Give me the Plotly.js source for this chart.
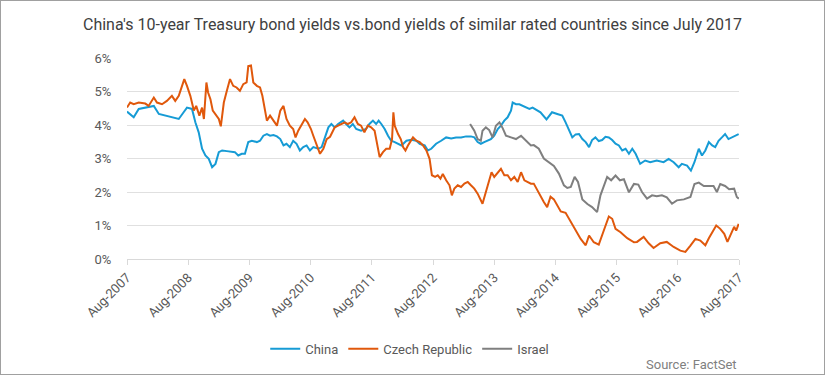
<!DOCTYPE html>
<html>
<head>
<meta charset="utf-8">
<script src="https://cdn.plot.ly/plotly-3.0.1.min.js"></script>
<style>
html,body{margin:0;padding:0;background:#fff;}
#wrap{position:relative;width:825px;height:375px;}
#chart{width:825px;height:375px;}
#frame{position:absolute;left:0;top:0;width:825px;height:375px;box-sizing:border-box;border:1px solid #a0a0a0;pointer-events:none;}
</style>
</head>
<body>
<div id="wrap"><div id="chart"></div><div id="frame"></div></div>
<script>
const chinaDates = ["2007-08-01","2007-09-10","2007-10-10","2007-11-18","2008-01-08","2008-02-07","2008-03-16","2008-04-25","2008-06-05","2008-07-04","2008-07-24","2008-08-23","2008-09-12","2008-10-02","2008-10-22","2008-11-11","2008-12-01","2008-12-21","2009-01-10","2009-01-30","2009-02-19","2009-03-19","2009-05-06","2009-05-26","2009-06-16","2009-07-05","2009-07-25","2009-08-15","2009-09-14","2009-10-03","2009-10-23","2009-11-13","2009-12-02","2009-12-22","2010-01-12","2010-02-01","2010-02-20","2010-03-10","2010-03-30","2010-04-19","2010-05-09","2010-05-29","2010-06-18","2010-07-08","2010-07-28","2010-08-17","2010-09-16","2010-10-06","2010-10-26","2010-11-15","2010-12-03","2010-12-23","2011-01-12","2011-02-11","2011-03-01","2011-03-21","2011-04-10","2011-04-30","2011-05-29","2011-06-28","2011-07-18","2011-08-08","2011-08-27","2011-09-11","2011-09-27","2011-10-17","2011-11-06","2011-11-25","2011-12-16","2012-01-05","2012-01-25","2012-02-24","2012-03-24","2012-04-23","2012-05-13","2012-06-12","2012-07-01","2012-07-21","2012-08-19","2012-09-18","2012-10-18","2012-11-17","2012-12-16","2013-01-15","2013-02-14","2013-03-15","2013-04-04","2013-04-24","2013-05-13","2013-06-02","2013-06-23","2013-07-12","2013-08-01","2013-08-22","2013-09-10","2013-09-30","2013-10-20","2013-11-09","2013-11-19","2013-12-09","2013-12-29","2014-01-18","2014-02-07","2014-02-27","2014-03-18","2014-03-25","2014-05-04","2014-06-09","2014-07-12","2014-08-12","2014-09-11","2014-10-01","2014-10-21","2014-11-10","2014-11-30","2014-12-20","2015-01-09","2015-01-29","2015-02-18","2015-03-08","2015-03-28","2015-04-17","2015-05-07","2015-05-27","2015-06-16","2015-07-06","2015-07-26","2015-08-15","2015-09-04","2015-09-24","2015-10-14","2015-11-03","2015-11-23","2015-12-20","2016-01-19","2016-02-18","2016-03-28","2016-05-08","2016-06-07","2016-07-07","2016-08-06","2016-08-25","2016-09-25","2016-10-18","2016-11-08","2016-12-04","2016-12-23","2017-01-12","2017-02-02","2017-02-22","2017-03-12","2017-04-01","2017-04-21","2017-05-10","2017-05-30","2017-06-19","2017-07-09","2017-07-30"];
const chinaVals = [4.40,4.23,4.48,4.52,4.57,4.33,4.28,4.22,4.18,4.38,4.52,4.48,4.08,3.78,3.29,3.09,2.99,2.74,2.84,3.19,3.24,3.22,3.19,3.09,3.14,3.14,3.49,3.53,3.49,3.53,3.68,3.73,3.68,3.70,3.66,3.58,3.39,3.44,3.34,3.53,3.44,3.24,3.34,3.39,3.24,3.34,3.29,3.34,3.63,3.93,4.03,3.93,4.03,4.13,4.03,3.93,4.03,3.88,3.83,3.88,4.03,4.13,4.03,4.13,4.03,3.88,3.68,3.53,3.49,3.44,3.39,3.53,3.56,3.53,3.44,3.39,3.24,3.29,3.44,3.53,3.63,3.60,3.63,3.63,3.66,3.66,3.63,3.49,3.44,3.49,3.53,3.58,3.68,3.88,3.98,4.13,4.23,4.43,4.67,4.62,4.62,4.57,4.52,4.48,4.52,4.50,4.38,4.17,4.38,4.33,4.28,4.08,3.83,3.63,3.72,3.73,3.58,3.49,3.34,3.55,3.63,3.52,3.55,3.65,3.63,3.55,3.44,3.39,3.24,3.29,3.14,3.29,3.14,2.84,2.94,2.89,2.94,2.89,2.99,2.89,2.74,2.84,2.79,2.64,2.89,3.29,3.09,3.24,3.49,3.39,3.34,3.53,3.63,3.73,3.58,3.63,3.68,3.73];

const czechDates = ["2007-08-01","2007-08-20","2007-09-10","2007-10-10","2007-11-18","2007-12-08","2008-01-08","2008-01-27","2008-02-26","2008-03-26","2008-04-25","2008-05-15","2008-06-05","2008-06-24","2008-07-08","2008-07-24","2008-08-13","2008-09-03","2008-09-17","2008-10-06","2008-10-22","2008-11-02","2008-11-11","2008-11-17","2008-11-27","2008-12-11","2008-12-25","2009-01-14","2009-01-30","2009-02-11","2009-02-19","2009-03-01","2009-03-19","2009-04-07","2009-04-26","2009-05-16","2009-06-05","2009-06-25","2009-07-15","2009-07-25","2009-08-10","2009-08-24","2009-09-14","2009-10-03","2009-10-17","2009-11-02","2009-11-13","2009-12-02","2009-12-22","2010-01-12","2010-02-01","2010-02-20","2010-03-10","2010-03-30","2010-04-19","2010-05-03","2010-05-19","2010-06-08","2010-06-28","2010-07-14","2010-08-03","2010-08-17","2010-09-07","2010-09-26","2010-10-16","2010-11-05","2010-11-25","2010-12-23","2011-01-12","2011-02-01","2011-02-21","2011-03-11","2011-03-31","2011-04-20","2011-05-10","2011-05-29","2011-06-18","2011-07-08","2011-07-28","2011-08-18","2011-09-01","2011-09-17","2011-10-07","2011-10-26","2011-11-16","2011-11-30","2011-12-08","2011-12-16","2012-01-05","2012-01-21","2012-02-04","2012-02-18","2012-03-04","2012-03-24","2012-04-03","2012-04-23","2012-05-13","2012-06-02","2012-06-22","2012-07-11","2012-07-25","2012-08-13","2012-08-29","2012-09-14","2012-09-28","2012-10-18","2012-11-07","2012-11-21","2012-12-06","2012-12-26","2013-01-15","2013-02-04","2013-02-24","2013-03-15","2013-04-04","2013-04-24","2013-05-13","2013-05-23","2013-06-12","2013-07-02","2013-07-16","2013-08-01","2013-08-22","2013-09-10","2013-09-30","2013-10-20","2013-11-09","2013-11-29","2013-12-19","2014-01-08","2014-01-28","2014-02-17","2014-03-08","2014-03-25","2014-04-14","2014-05-04","2014-05-24","2014-06-13","2014-07-03","2014-07-23","2014-08-12","2014-09-02","2014-10-01","2014-11-01","2014-11-30","2014-12-30","2015-01-29","2015-02-18","2015-03-18","2015-04-17","2015-05-17","2015-06-16","2015-07-06","2015-07-26","2015-08-25","2015-10-04","2015-11-13","2015-12-01","2016-01-10","2016-02-09","2016-03-09","2016-04-18","2016-05-27","2016-07-07","2016-08-16","2016-09-15","2016-10-15","2016-11-14","2016-12-13","2017-01-12","2017-02-02","2017-02-28","2017-03-18","2017-04-11","2017-05-05","2017-05-24","2017-06-13","2017-07-03","2017-07-15","2017-07-30"];
const czechVals = [4.52,4.67,4.62,4.67,4.64,4.57,4.82,4.67,4.62,4.72,4.87,4.72,4.87,5.17,5.37,5.17,4.87,4.43,4.57,4.28,4.52,4.18,4.87,5.27,4.97,4.77,4.43,4.28,4.18,3.96,4.28,4.67,5.02,5.37,5.17,5.12,5.02,5.22,5.27,5.76,5.78,5.27,5.17,5.12,4.87,4.43,4.13,4.28,4.13,3.98,4.43,4.57,4.18,3.98,3.88,3.63,3.83,4.03,4.18,4.08,3.88,3.68,3.39,3.14,3.29,3.58,3.65,3.93,3.98,4.03,4.08,4.03,4.08,4.23,4.03,3.98,3.78,3.98,3.93,3.83,3.49,3.04,3.19,3.29,3.29,3.58,4.38,3.98,3.73,3.58,3.34,3.24,3.39,3.53,3.63,3.53,3.49,3.39,3.24,2.99,2.50,2.45,2.50,2.40,2.54,2.35,2.20,1.90,2.10,2.20,2.15,2.25,2.30,2.20,2.10,1.95,1.75,1.65,2.00,2.40,2.59,2.45,2.59,2.69,2.50,2.50,2.35,2.45,2.30,2.59,2.35,2.30,2.25,2.25,2.05,1.90,1.70,1.55,1.86,1.78,1.62,1.42,1.38,1.12,0.87,0.60,0.41,0.70,0.50,0.43,0.85,1.27,1.20,0.90,0.80,0.62,0.50,0.51,0.66,0.47,0.33,0.47,0.51,0.36,0.25,0.21,0.40,0.60,0.55,0.41,0.62,0.86,1.00,0.90,0.75,0.51,0.76,0.96,0.85,1.05];

const israelDates = ["2013-03-10","2013-04-04","2013-04-24","2013-05-13","2013-05-23","2013-06-12","2013-07-02","2013-07-22","2013-08-11","2013-09-01","2013-09-21","2013-10-10","2013-11-09","2013-12-09","2014-01-08","2014-02-07","2014-03-08","2014-03-25","2014-04-24","2014-05-24","2014-06-23","2014-07-23","2014-08-22","2014-09-21","2014-10-11","2014-11-01","2014-11-24","2014-12-14","2015-01-09","2015-02-08","2015-03-08","2015-04-07","2015-04-27","2015-05-17","2015-06-06","2015-06-30","2015-07-26","2015-08-21","2015-09-14","2015-10-14","2015-11-13","2015-12-09","2015-12-31","2016-01-30","2016-02-29","2016-03-28","2016-04-28","2016-05-27","2016-06-27","2016-07-26","2016-09-06","2016-10-15","2016-11-08","2016-12-04","2017-01-03","2017-02-02","2017-03-02","2017-03-22","2017-04-11","2017-05-10","2017-06-03","2017-07-03","2017-07-19","2017-07-31"];
const israelVals = [4.03,3.83,3.58,3.53,3.83,3.93,3.85,3.63,3.98,4.08,3.90,3.68,3.63,3.58,3.68,3.53,3.39,3.40,3.29,3.00,2.89,2.78,2.55,2.20,2.12,2.15,2.45,2.30,1.78,1.64,1.55,1.40,1.90,2.15,2.45,2.35,2.49,2.35,2.38,1.99,2.24,2.22,2.00,1.80,1.90,1.87,1.90,1.84,1.65,1.75,1.78,1.85,2.24,2.28,2.18,2.18,2.18,2.00,2.24,2.18,2.08,2.10,1.85,1.80];

const tickDates = ["2007-08-01","2008-08-01","2009-08-01","2010-08-01","2011-08-01","2012-08-01","2013-08-01","2014-08-01","2015-08-01","2016-08-01","2017-08-01"];
const tickLabels = ["Aug-2007","Aug-2008","Aug-2009","Aug-2010","Aug-2011","Aug-2012","Aug-2013","Aug-2014","Aug-2015","Aug-2016","Aug-2017"];
const seriesNames = ["China","Czech Republic","Israel"];

const FONT = "Roboto, Arial, sans-serif";
const traces = [
  {x: chinaDates, y: chinaVals, name: seriesNames[0], type:'scatter', mode:'lines', line:{color:'#169bd5', width:2}},
  {x: czechDates, y: czechVals, name: seriesNames[1], type:'scatter', mode:'lines', line:{color:'#e0580c', width:2}},
  {x: israelDates, y: israelVals, name: seriesNames[2], type:'scatter', mode:'lines', line:{color:'#7f7f7f', width:2}}
];
const layout = {
  width:825, height:375,
  margin:{l:127, r:86, t:58, b:115},
  paper_bgcolor:'#fff', plot_bgcolor:'#fff',
  font:{family:FONT, size:13, color:'#595959'},
  title:{text:"China's 10-year Treasury bond yields vs.bond yields of similar rated countries since July 2017",
         font:{family:FONT, size:16, color:'#404040'}, x:0.5, xanchor:'center', y:0.935, yanchor:'middle'},
  xaxis:{type:'date', range:['2007-08-01','2017-08-01'], tickvals:tickDates, ticktext:tickLabels,
         tickangle:-45, showgrid:false, showline:true, linecolor:'#d9d9d9', linewidth:1,
         ticks:'outside', ticklen:5, tickcolor:'#d9d9d9', tickfont:{size:13, color:'#595959'}, zeroline:false},
  yaxis:{range:[0,6], dtick:1, ticksuffix:'%', showgrid:true, gridcolor:'#e0e0e0', gridwidth:1,
         zeroline:false, showline:false, ticks:'outside', ticklen:12, tickcolor:'rgba(0,0,0,0)',
         tickfont:{size:13, color:'#595959'}},
  showlegend:true,
  legend:{orientation:'h', x:0.462, xanchor:'center', y:-0.44, yanchor:'middle', font:{size:13, color:'#595959'}},
  annotations:[{text:'Source: FactSet', xref:'paper', yref:'paper', x:1, y:-0.525, xanchor:'right', yanchor:'middle',
                showarrow:false, font:{size:13, color:'#808080'}}]
};
Plotly.newPlot('chart', traces, layout, {displayModeBar:false, staticPlot:true});
</script>
</body>
</html>
